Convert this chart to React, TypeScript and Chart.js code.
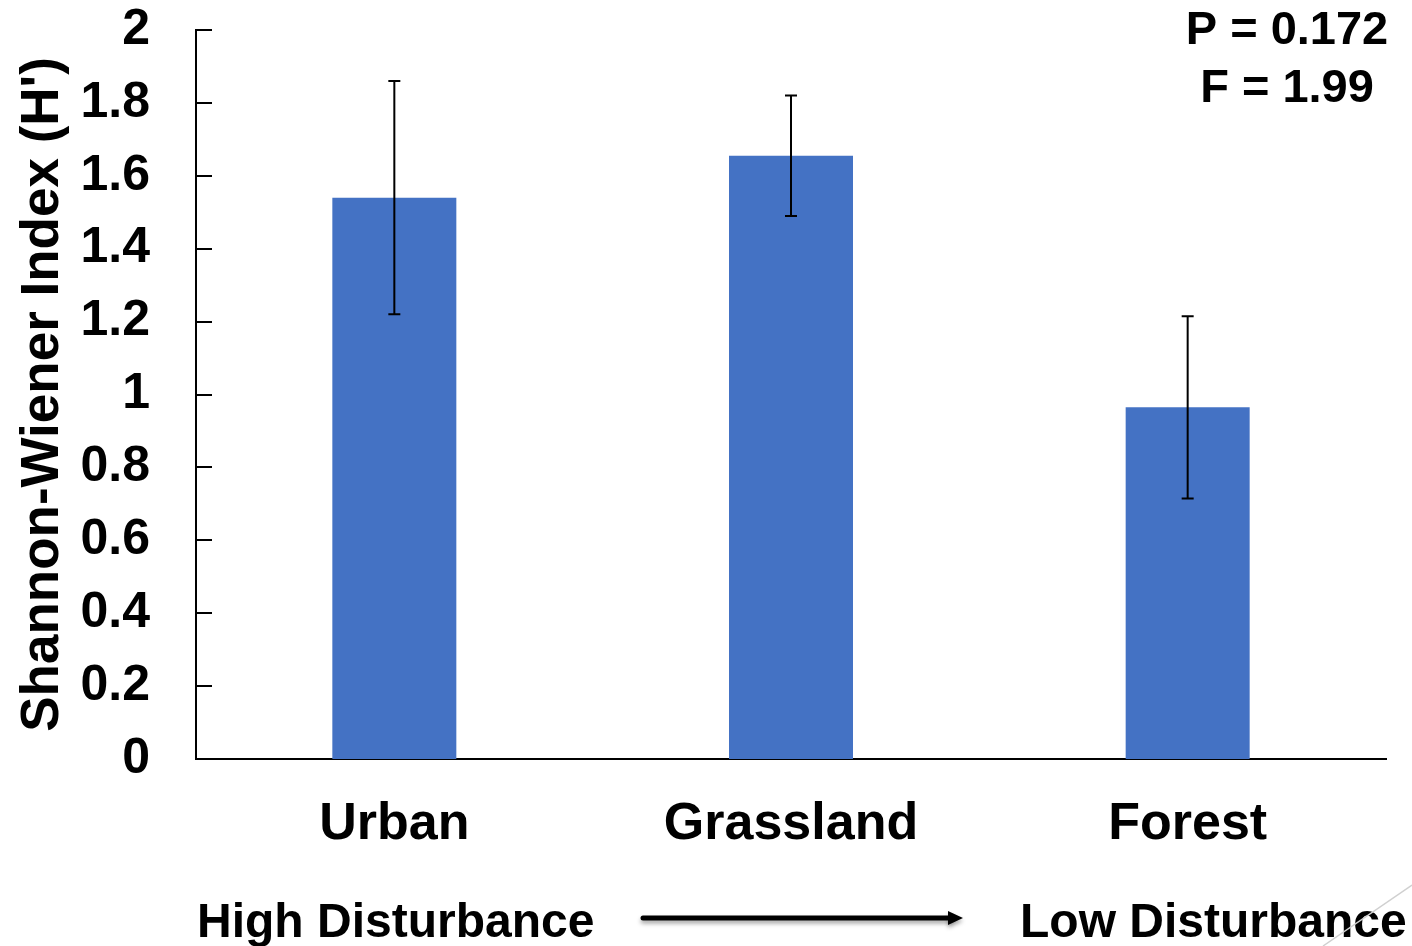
import React, { useEffect, useRef } from "react";
import { Chart, registerables } from "chart.js";

Chart.register(...registerables);

const categories = ["Urban", "Grassland", "Forest"];
const meanValues = [1.54, 1.655, 0.965];
const errorValues = [0.32, 0.165, 0.25];
const yMin = 0;
const yMax = 2;
const yStep = 0.2;
const yTitle = "Shannon-Wiener Index (H')";
const statLines = ["P = 0.172", "F = 1.99"];
const gradientLabels = ["High Disturbance", "Low Disturbance"];

const FONT = '"Liberation Sans", Arial, sans-serif';
const BAR_COLOR = "#4472C4";

const overlayPlugin = {
  id: "overlay",
  afterDatasetsDraw(chart: any) {
    const ctx = chart.ctx;
    const xs = chart.scales.x;
    const ys = chart.scales.y;
    ctx.save();
    ctx.strokeStyle = "#000";
    ctx.lineWidth = 2;
    // error bars
    meanValues.forEach((m, i) => {
      const x = xs.getPixelForValue(i);
      const top = ys.getPixelForValue(m + errorValues[i]);
      const bot = ys.getPixelForValue(m - errorValues[i]);
      ctx.beginPath();
      ctx.moveTo(x, top);
      ctx.lineTo(x, bot);
      ctx.moveTo(x - 6, top);
      ctx.lineTo(x + 6, top);
      ctx.moveTo(x - 6, bot);
      ctx.lineTo(x + 6, bot);
      ctx.stroke();
    });
    // inside tick marks on y axis
    const left = chart.chartArea.left;
    ys.ticks.forEach((t: any) => {
      const y = Math.round(ys.getPixelForValue(t.value));
      ctx.beginPath();
      ctx.moveTo(left, y);
      ctx.lineTo(left + 16, y);
      ctx.stroke();
    });
    ctx.restore();
  },
  afterDraw(chart: any) {
    const ctx = chart.ctx;
    ctx.save();
    ctx.fillStyle = "#000";
    ctx.font = `bold 47px ${FONT}`;
    ctx.textAlign = "center";
    ctx.textBaseline = "alphabetic";
    ctx.fillText(statLines[0], 1287, 44);
    ctx.fillText(statLines[1], 1287, 102);

    ctx.font = `bold 48px ${FONT}`;
    ctx.textAlign = "left";
    ctx.fillText(gradientLabels[0], 197, 937);
    ctx.fillText(gradientLabels[1], 1020, 937);

    // arrow
    ctx.save();
    ctx.shadowColor = "rgba(0,0,0,0.35)";
    ctx.shadowBlur = 4;
    ctx.shadowOffsetY = 3;
    ctx.strokeStyle = "#000";
    ctx.lineWidth = 5;
    ctx.lineCap = "round";
    ctx.beginPath();
    ctx.moveTo(643, 918);
    ctx.lineTo(950, 918);
    ctx.stroke();
    ctx.beginPath();
    ctx.moveTo(948, 911);
    ctx.lineTo(963, 918);
    ctx.lineTo(948, 925);
    ctx.closePath();
    ctx.fill();
    ctx.restore();

    // faint decorative diagonal
    ctx.strokeStyle = "#d0d0d0";
    ctx.lineWidth = 1.5;
    ctx.beginPath();
    ctx.moveTo(1412, 885);
    ctx.lineTo(1323, 946);
    ctx.stroke();
    ctx.restore();
  },
};

export default function App() {
  const ref = useRef<HTMLCanvasElement | null>(null);
  useEffect(() => {
    document.body.style.margin = "0";
    const chart = new Chart(ref.current as HTMLCanvasElement, {
      type: "bar",
      data: {
        labels: categories,
        datasets: [
          {
            data: meanValues,
            backgroundColor: BAR_COLOR,
            borderWidth: 0,
            categoryPercentage: 1,
            barPercentage: 0.3126,
          },
        ],
      },
      options: {
        responsive: false,
        animation: false,
        layout: { padding: { top: 30, right: 26, left: 0, bottom: 0 } },
        plugins: { legend: { display: false }, tooltip: { enabled: false } },
        scales: {
          x: {
            grid: { display: false, drawTicks: false },
            border: { display: true, color: "#000", width: 2 },
            ticks: {
              color: "#000",
              font: { family: FONT, size: 52, weight: "bold" },
              padding: 34,
              maxRotation: 0,
            },
            afterFit(scale: any) {
              scale.height = 187;
              scale.paddingLeft = 0;
              scale.paddingRight = 0;
            },
          },
          y: {
            min: yMin,
            max: yMax,
            grid: { display: false, drawTicks: false },
            border: { display: true, color: "#000", width: 2 },
            ticks: {
              stepSize: yStep,
              color: "#000",
              font: { family: FONT, size: 50, weight: "bold" },
              padding: 46,
              callback: (v: any) => String(Math.round(Number(v) * 10) / 10),
            },
            title: {
              display: true,
              text: yTitle,
              color: "#000",
              font: { family: FONT, size: 53, weight: "bold" },
              padding: { top: 12, bottom: 0 },
            },
            afterFit(scale: any) {
              scale.width = 196;
              scale.paddingTop = 0;
              scale.paddingBottom = 0;
            },
          },
        },
      },
      plugins: [overlayPlugin],
    });
    return () => chart.destroy();
  }, []);
  return (
    <div style={{ position: "fixed", left: 0, top: 0, width: 1412, height: 946, background: "#fff" }}>
      <canvas ref={ref} width={1412} height={946} />
    </div>
  );
}
